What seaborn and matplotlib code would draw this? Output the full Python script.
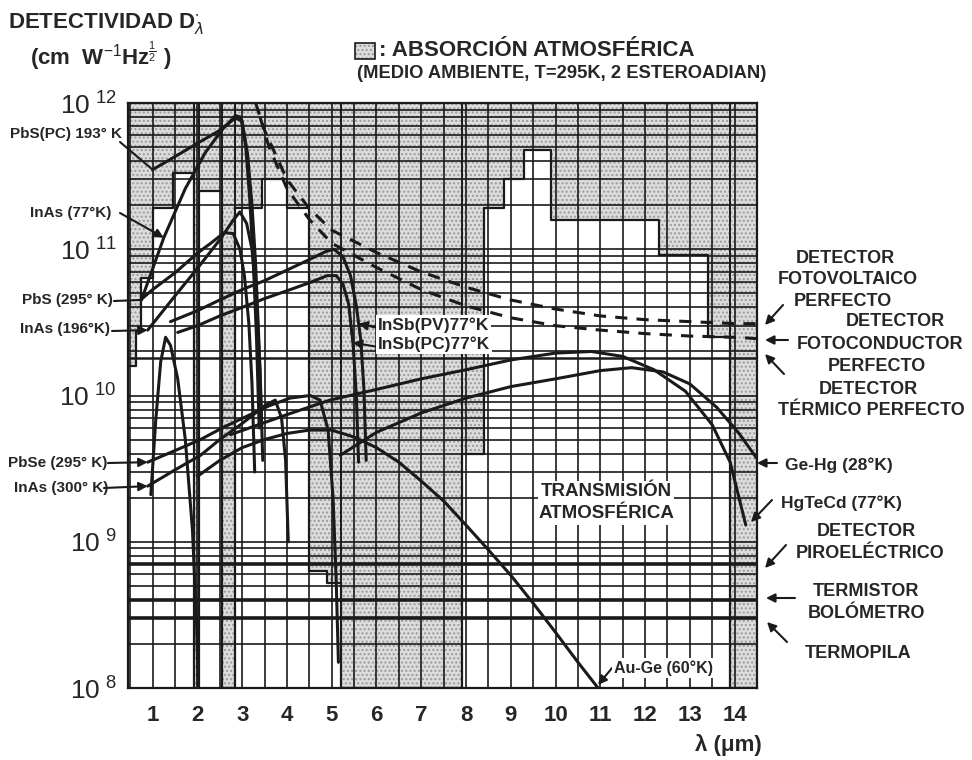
import numpy as np
import pandas as pd
import matplotlib
matplotlib.use("Agg")
import matplotlib.pyplot as plt
from matplotlib.patches import Rectangle
from matplotlib.ticker import MultipleLocator, LogLocator, NullFormatter, FixedLocator
import seaborn as sns

sns.set_theme(style="white")
plt.rcParams["font.family"] = ["Liberation Sans", "DejaVu Sans"]
plt.rcParams["mathtext.fontset"] = "custom"
plt.rcParams["mathtext.rm"] = "Liberation Sans"
plt.rcParams["mathtext.bf"] = "Liberation Sans:bold"
plt.rcParams["hatch.linewidth"] = 1.0

# ---------------- data ----------------
# atmospheric transmission (%) as a step function of wavelength (um)
band_edges = [0.45, 0.62, 0.75, 1.0, 1.45, 1.93, 2.03, 2.55, 2.85, 3.45, 4.0, 4.5,
              4.9, 5.2, 7.9, 8.4, 8.85, 9.3, 9.9, 12.3, 13.4, 13.9, 14.5]
transmission = [55, 61, 70, 82, 88, 0, 85, 0, 82, 87, 82, 20,
                18, 0, 40, 82, 87, 92, 80, 74, 60, 0]

pbs193_lam = [1.0, 1.5, 2.0, 2.5, 2.85, 3.0, 3.12, 3.22, 3.3, 3.37, 3.43]
pbs193_d = [3.5e11, 4.3e11, 5.3e11, 6.5e11, 7.9e11, 7.5e11, 4.5e11, 2.0e11, 8e10, 2.5e10, 7e9]

inas77_lam = [0.75, 1.25, 1.73, 2.18, 2.56, 2.85, 2.97, 3.08, 3.17, 3.25, 3.32, 3.38]
inas77_d = [4.5e10, 1.2e11, 2.6e11, 4.6e11, 6.6e11, 8.2e11, 8.0e11, 5e11, 2.2e11, 8e10, 2.5e10, 6e9]

pbs295_lam = [0.73, 1.0, 1.5, 2.0, 2.3, 2.6, 2.8, 2.95, 3.05, 3.15, 3.22, 3.28]
pbs295_d = [4.5e10, 5.3e10, 6.9e10, 9.4e10, 1.1e11, 1.3e11, 1.28e11, 1.0e11, 6.6e10, 3.1e10, 1.2e10, 3e9]

inas196_lam = [0.89, 1.5, 2.0, 2.5, 2.8, 2.95, 3.1, 3.22, 3.32, 3.4, 3.46]
inas196_d = [2.8e10, 4.8e10, 7.4e10, 1.16e11, 1.58e11, 1.8e11, 1.5e11, 1.0e11, 4.5e10, 1.5e10, 3.6e9]

insb_pv_lam = [1.4, 2.0, 2.5, 3.0, 3.5, 4.0, 4.5, 4.85, 5.05, 5.25, 5.42, 5.55, 5.65, 5.72, 5.77]
insb_pv_d = [3.2e10, 3.8e10, 4.5e10, 5.3e10, 6.1e10, 7.2e10, 8.5e10, 9.6e10, 1.0e11, 8.9e10,
             6.6e10, 4.1e10, 2.4e10, 1.1e10, 3.6e9]

insb_pc_lam = [1.56, 2.0, 2.5, 3.0, 3.5, 4.0, 4.5, 4.9, 5.1, 5.25, 5.38, 5.48, 5.55, 5.6]
insb_pc_d = [2.7e10, 3.0e10, 3.5e10, 4.0e10, 4.6e10, 5.2e10, 5.9e10, 6.6e10, 6.6e10, 5.8e10,
             4.2e10, 2.2e10, 1.0e10, 3.5e9]

ge_pv_lam = [0.96, 1.07, 1.18, 1.29, 1.4, 1.56, 1.73, 1.89, 1.98, 2.02]
ge_pv_d = [2.1e9, 6.8e9, 1.7e10, 2.5e10, 2.2e10, 1.3e10, 5e9, 1.2e9, 2.9e8, 1e8]

pbse_lam = [0.89, 1.5, 2.07, 2.6, 3.18, 3.6, 4.07, 4.52, 4.74, 4.92, 5.03, 5.1, 5.15]
pbse_d = [3.5e9, 4.2e9, 5e9, 6.1e9, 7.4e9, 8.5e9, 9.6e9, 1e10, 9.3e9, 5.8e9, 2e9, 5.5e8, 1.5e8]

inas300_lam = [0.89, 1.5, 2.07, 2.5, 2.96, 3.3, 3.52, 3.74, 3.88, 3.97, 4.03]
inas300_d = [2.4e9, 3.1e9, 3.9e9, 5e9, 6.3e9, 7.6e9, 8.6e9, 9.3e9, 7e9, 3.6e9, 1.0e9]

auge_lam = [2.0, 2.5, 3.0, 3.5, 4.0, 4.5, 5.0, 5.5, 6.0, 6.5, 7.0, 7.5, 8.0, 8.5, 9.0,
            9.5, 10.0, 10.5, 10.95]
auge_d = [2.8e9, 3.6e9, 4.4e9, 5.0e9, 5.5e9, 5.8e9, 5.8e9, 5.2e9, 4.4e9, 3.5e9, 2.6e9,
          1.9e9, 1.3e9, 8.8e8, 5.9e8, 3.8e8, 2.4e8, 1.5e8, 1.0e8]

hgtecd_lam = [2.74, 4.0, 4.96, 6.0, 7.0, 8.0, 9.0, 10.0, 10.8, 11.5, 12.2, 12.9, 13.5, 13.9, 14.25]
hgtecd_d = [5.4e9, 7.4e9, 9.3e9, 1.1e10, 1.3e10, 1.5e10, 1.75e10, 1.95e10, 2.0e10, 1.85e10,
            1.5e10, 1.07e10, 6.3e9, 3.5e9, 1.3e9]

gehg_lam = [5.19, 6.0, 7.0, 8.0, 9.0, 10.0, 11.0, 11.7, 12.4, 13.0, 13.6, 14.1, 14.5]
gehg_d = [3.9e9, 5.6e9, 7.6e9, 9.6e9, 1.15e10, 1.3e10, 1.48e10, 1.55e10, 1.45e10, 1.2e10,
          8.3e9, 5.5e9, 3.7e9]

pv_ideal_lam = [3.3, 3.5, 4.0, 4.5, 5.0, 6.0, 7.0, 8.0, 9.0, 10.0, 11.0, 12.0, 13.0, 14.0, 14.5]
pv_ideal_d = [1e12, 6.5e11, 3e11, 1.9e11, 1.35e11, 9.5e10, 7e10, 5.5e10, 4.5e10, 3.9e10,
              3.5e10, 3.3e10, 3.2e10, 3.1e10, 3.1e10]

pc_ideal_lam = [3.4, 3.6, 4.0, 4.5, 5.0, 6.0, 7.0, 8.0, 9.0, 10.0, 11.0, 12.0, 13.0, 14.0, 14.5]
pc_ideal_d = [8e11, 5e11, 2.6e11, 1.6e11, 1.1e11, 7.5e10, 5.3e10, 4.1e10, 3.4e10, 3.0e10,
              2.8e10, 2.65e10, 2.55e10, 2.5e10, 2.45e10]

# flat-response (thermal) detectors
thermal_ideal_d = 1.8e10
pyro_d = 7e8
bolometer_d = 4e8
thermopile_d = 3e8

x_ticks = list(range(1, 15))
y_ticks = [1e8, 1e9, 1e10, 1e11, 1e12]
y_tick_labels = [r"$\mathregular{10^{\ 8}}$", r"$\mathregular{10^{\ 9}}$", r"$\mathregular{10^{\ 10}}$",
                 r"$\mathregular{10^{\ 11}}$", r"$\mathregular{10^{\ 12}}$"]

solid = {
    "PbS(PC) 193K": (pbs193_lam, pbs193_d),
    "InAs 77K": (inas77_lam, inas77_d),
    "PbS 295K": (pbs295_lam, pbs295_d),
    "InAs 196K": (inas196_lam, inas196_d),
    "InSb(PV) 77K": (insb_pv_lam, insb_pv_d),
    "InSb(PC) 77K": (insb_pc_lam, insb_pc_d),
    "Ge": (ge_pv_lam, ge_pv_d),
    "PbSe 295K": (pbse_lam, pbse_d),
    "InAs 300K": (inas300_lam, inas300_d),
    "Au-Ge 60K": (auge_lam, auge_d),
    "HgTeCd 77K": (hgtecd_lam, hgtecd_d),
    "Ge-Hg 28K": (gehg_lam, gehg_d),
}
dashed = {
    "PV ideal": (pv_ideal_lam, pv_ideal_d),
    "PC ideal": (pc_ideal_lam, pc_ideal_d),
}


def frame(curves):
    rows = []
    for name, (lam, d) in curves.items():
        rows += [{"detector": name, "lam": l, "D": v} for l, v in zip(lam, d)]
    return pd.DataFrame(rows)


df_solid = frame(solid)
df_dashed = frame(dashed)

# ---------------- figure ----------------
W, H = 972, 760
fig = plt.figure(figsize=(W / 100, H / 100), dpi=100, facecolor="white")
ax = fig.add_axes([128 / W, 1 - 688 / H, (757 - 128) / W, (688 - 103) / H])
ax2 = ax.twinx()
ax.set_zorder(2)
ax2.set_zorder(1)
ax.patch.set_visible(False)
ax2.patch.set_facecolor("white")

XMIN, XMAX = 0.45, 14.5
SHADE, DOTS = "#dcdcdc", "#9a9a9a"

# atmospheric absorption (shaded above the transmission curve)
t_step = transmission + [transmission[-1]]
ax2.fill_between(band_edges, t_step, 100, step="post", facecolor=SHADE,
                 edgecolor=DOTS, hatch="....", linewidth=0)
ax2.step(band_edges, t_step, where="post", color="k", lw=1.6)
ax2.set_ylim(0, 100)
ax2.set_yticks([])
for s in ax2.spines.values():
    s.set_visible(False)

# main log axes
ax.set_yscale("log")
ax.set_xlim(XMIN, XMAX)
ax.set_ylim(1e8, 1e12)

for b0, b1, t in zip(band_edges[:-1], band_edges[1:], transmission):
    if t == 0:
        ax.axvline(b0, color="k", lw=1.4, zorder=1)
        ax.axvline(b1, color="k", lw=1.4, zorder=1)

sns.lineplot(data=df_solid, x="lam", y="D", units="detector", estimator=None,
             color="k", lw=2.2, ax=ax, legend=False, zorder=4)
sns.lineplot(data=df_dashed, x="lam", y="D", units="detector", estimator=None,
             color="k", lw=2.2, ax=ax, legend=False, zorder=4, dashes=False,
             linestyle=(0, (4, 3)))

for level, lw in [(thermal_ideal_d, 1.8), (pyro_d, 2.6), (bolometer_d, 2.6), (thermopile_d, 2.6)]:
    ax.axhline(level, color="k", lw=lw, zorder=3)

ax.xaxis.set_major_locator(FixedLocator(x_ticks))
ax.xaxis.set_minor_locator(MultipleLocator(0.5))
ax.set_yticks(y_ticks)
ax.set_yticklabels(y_tick_labels)
ax.yaxis.set_minor_locator(LogLocator(base=10, subs=np.arange(2, 10)))
ax.yaxis.set_minor_formatter(NullFormatter())
ax.grid(True, which="both", axis="both", color="k", lw=1.2)
ax.set_axisbelow(True)
ax.tick_params(axis="both", which="both", length=0)
ax.tick_params(axis="x", labelsize=16, pad=12)
ax.tick_params(axis="y", labelsize=19, pad=8)
for lab in ax.get_xticklabels():
    lab.set_fontweight("bold")
ax.set_xlabel("")
ax.set_ylabel("")
for s in ax.spines.values():
    s.set_color("k")
    s.set_linewidth(1.6)


# ---------------- annotations ----------------
def pix(x, y):
    return (x / W, 1 - y / H)


def txt(x, y, s, size=13, ha="left", weight="bold", **kw):
    fig.text(x / W, 1 - y / H, s, fontsize=size, ha=ha, va="center",
             fontweight=weight, **kw)


def pointer(xy, start, head=True, data=True):
    ax.annotate("", xy=xy, xycoords="data" if data else "figure fraction",
                xytext=pix(*start), textcoords="figure fraction",
                arrowprops=dict(arrowstyle="-|>" if head else "-", color="k", lw=1.5,
                                mutation_scale=13, shrinkA=0, shrinkB=0),
                annotation_clip=False, zorder=6)


txt(8, 23, r"DETECTIVIDAD D$^{\bullet}_{\lambda}$", size=16)
txt(30, 56, r"(cm  W$^{-1}$Hz$^{\frac{1}{2}}$ )", size=16)

fig.add_artist(Rectangle(pix(355, 59), 20 / W, 16 / H, transform=fig.transFigure,
                         facecolor=SHADE, edgecolor=DOTS, hatch="....", lw=0))
fig.add_artist(Rectangle(pix(355, 59), 20 / W, 16 / H, transform=fig.transFigure,
                         facecolor="none", edgecolor="k", lw=1.2))
txt(379, 50, ": ABSORCIÓN ATMOSFÉRICA", size=16)
txt(562, 73, "(MEDIO AMBIENTE, T=295K, 2 ESTEROADIAN)", size=13.2, ha="center")

lsz = 11
txt(10, 134, "PbS(PC) 193° K", size=lsz)
pointer((pbs193_lam[0], pbs193_d[0]), (120, 142), head=False)
txt(30, 213, "InAs (77°K)", size=lsz)
pointer((1.25, 1.2e11), (120, 213))
txt(22, 300, "PbS (295° K)", size=lsz)
pointer((pbs295_lam[0], pbs295_d[0]), (114, 301), head=False)
txt(20, 329, "InAs (196°K)", size=lsz)
pointer((inas196_lam[0], inas196_d[0]), (112, 331))
txt(8, 463, "PbSe (295° K)", size=lsz)
pointer((pbse_lam[0], pbse_d[0]), (108, 463))
txt(14, 488, "InAs (300° K)", size=lsz)
pointer((inas300_lam[0], inas300_d[0]), (104, 488))

box = dict(facecolor="white", edgecolor="none", pad=1.5)
txt(378, 325, "InSb(PV)77°K", size=12.5, bbox=box)
pointer((5.6, 3.1e10), (378, 328))
txt(378, 344, "InSb(PC)77°K", size=12.5, bbox=box)
pointer((5.47, 2.3e10), (378, 347))

txt(606, 492, "TRANSMISIÓN", size=13.5, ha="center", bbox=box)
txt(606, 514, "ATMOSFÉRICA", size=13.5, ha="center", bbox=box)

txt(614, 668, "Au-Ge (60°K)", size=11.5, bbox=box)
pointer((10.95, 1.05e8), (612, 668))

rsz = 13
txt(845, 258, "DETECTOR", size=rsz, ha="center")
txt(848, 280, "FOTOVOLTAICO", size=rsz, ha="center")
txt(843, 302, "PERFECTO", size=rsz, ha="center")
pointer(pix(765, 325), (783, 305), data=False)
txt(895, 322, "DETECTOR", size=rsz, ha="center")
txt(880, 344, "FOTOCONDUCTOR", size=rsz, ha="center")
txt(877, 366, "PERFECTO", size=rsz, ha="center")
pointer(pix(765, 340), (788, 340), data=False)
pointer(pix(765, 354), (784, 374), data=False)
txt(868, 389, "DETECTOR", size=rsz, ha="center")
txt(871, 411, "TÉRMICO PERFECTO", size=rsz, ha="center")

txt(785, 465, "Ge-Hg (28°K)", size=12.5)
pointer(pix(757, 463), (777, 463), data=False)
txt(781, 503, "HgTeCd (77°K)", size=12.5)
pointer(pix(751, 522), (772, 500), data=False)
txt(866, 531, "DETECTOR", size=rsz, ha="center")
txt(870, 553, "PIROELÉCTRICO", size=rsz, ha="center")
pointer(pix(765, 568), (786, 545), data=False)
txt(866, 592, "TERMISTOR", size=rsz, ha="center")
txt(866, 614, "BOLÓMETRO", size=rsz, ha="center")
pointer(pix(766, 598), (795, 598), data=False)
txt(858, 654, "TERMOPILA", size=rsz, ha="center")
pointer(pix(767, 622), (787, 642), data=False)

txt(728, 745, "λ (μm)", size=16, ha="center")

fig.savefig("out.png", dpi=100, facecolor="white")
